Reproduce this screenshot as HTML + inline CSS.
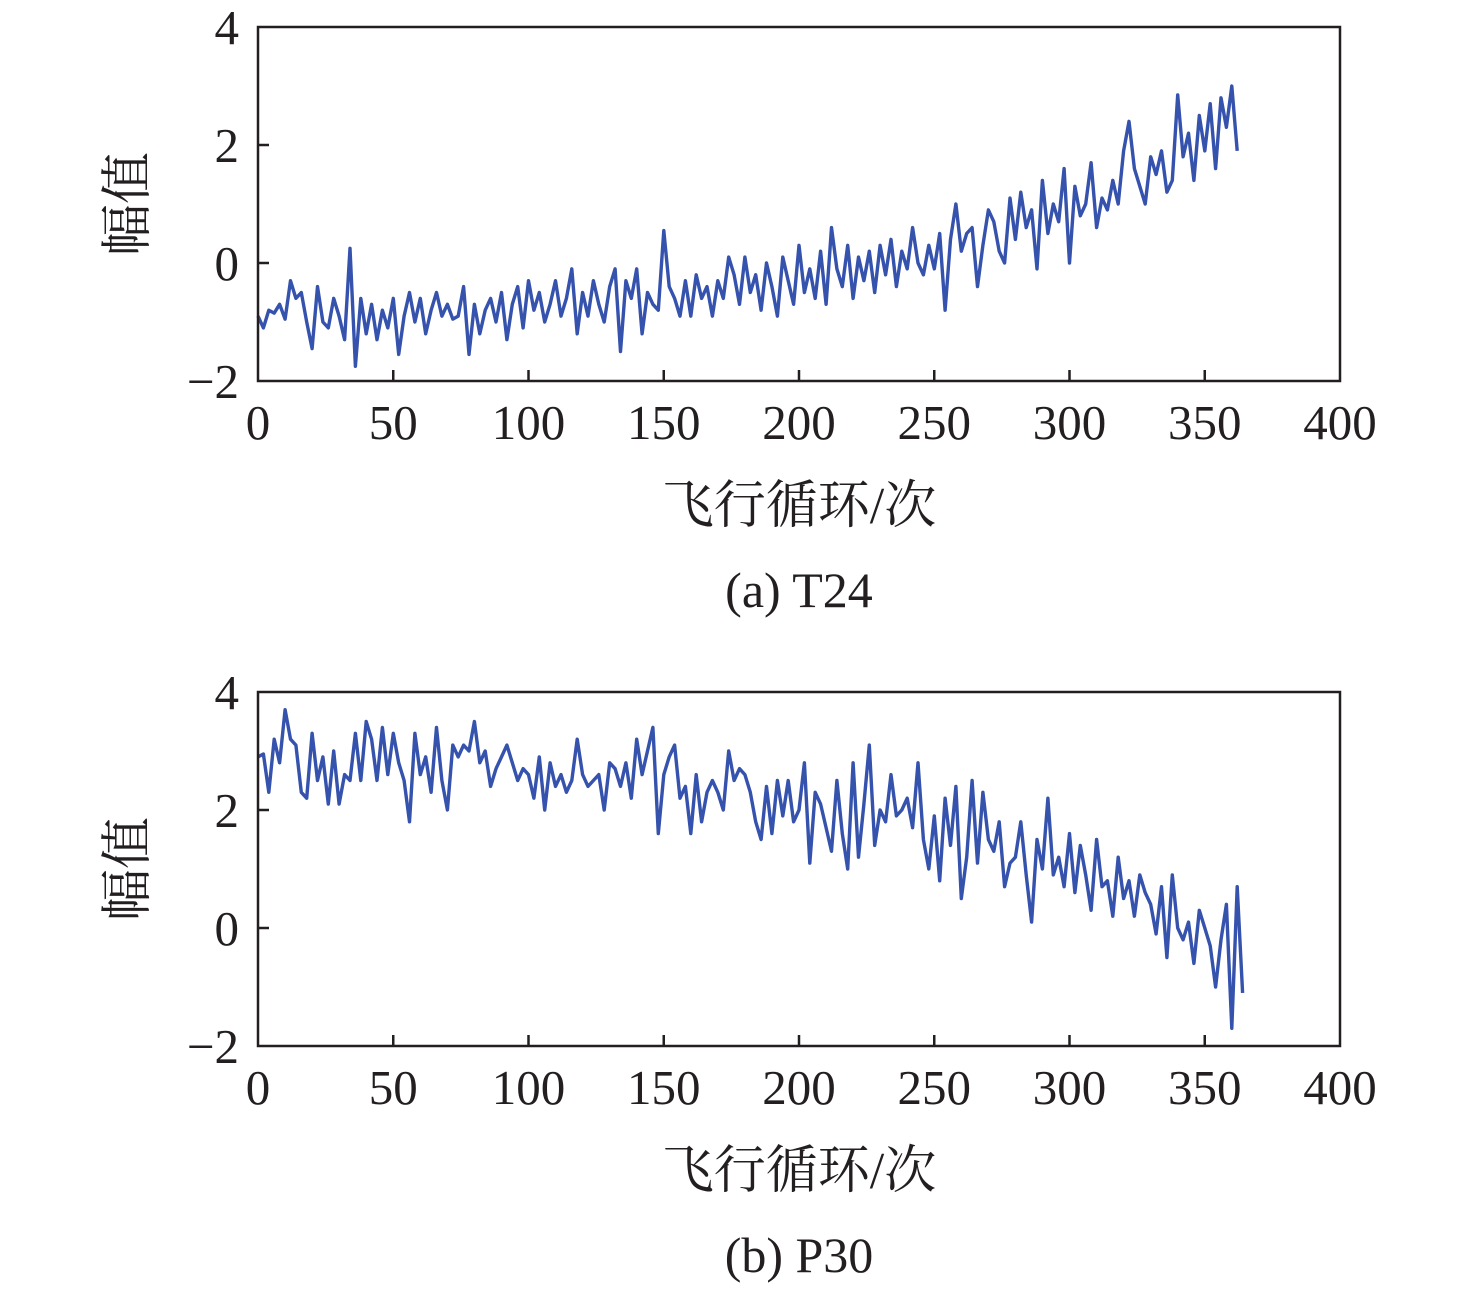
<!DOCTYPE html>
<html><head><meta charset="utf-8">
<style>
html,body{margin:0;padding:0;background:#fff;}
svg{display:block;}
text{font-family:"Liberation Serif","Noto Serif CJK SC",serif;fill:#231f20;}
</style></head>
<body>
<svg id="chart" width="1476" height="1291" xmlns="http://www.w3.org/2000/svg"></svg>
<script>
const xTicks = [0,50,100,150,200,250,300,350,400];
const yTicks = [-2,0,2,4];
const t24Values = [-0.9,-1.1,-0.8,-0.85,-0.7,-0.95,-0.3,-0.6,-0.5,-1.0,
-1.45,-0.4,-1.0,-1.1,-0.6,-0.9,-1.3,0.25,-1.75,-0.6,
-1.2,-0.7,-1.3,-0.8,-1.1,-0.6,-1.55,-0.9,-0.5,-1.0,
-0.6,-1.2,-0.8,-0.5,-0.9,-0.7,-0.95,-0.9,-0.4,-1.55,
-0.7,-1.2,-0.8,-0.6,-1.0,-0.5,-1.3,-0.7,-0.4,-1.1,
-0.3,-0.8,-0.5,-1.0,-0.7,-0.3,-0.9,-0.6,-0.1,-1.2,
-0.5,-0.9,-0.3,-0.7,-1.0,-0.4,-0.1,-1.5,-0.3,-0.6,
-0.1,-1.2,-0.5,-0.7,-0.8,0.55,-0.4,-0.6,-0.9,-0.3,
-0.9,-0.2,-0.6,-0.4,-0.9,-0.3,-0.6,0.1,-0.2,-0.7,
0.1,-0.5,-0.2,-0.8,0.0,-0.4,-0.9,0.1,-0.3,-0.7,
0.3,-0.5,-0.1,-0.6,0.2,-0.7,0.6,-0.1,-0.4,0.3,
-0.6,0.1,-0.3,0.2,-0.5,0.3,-0.2,0.4,-0.4,0.2,
-0.1,0.6,0.0,-0.2,0.3,-0.1,0.5,-0.8,0.4,1.0,
0.2,0.5,0.6,-0.4,0.3,0.9,0.7,0.2,0.0,1.1,
0.4,1.2,0.6,0.9,-0.1,1.4,0.5,1.0,0.7,1.6,
0.0,1.3,0.8,1.0,1.7,0.6,1.1,0.9,1.4,1.0,
1.9,2.4,1.6,1.3,1.0,1.8,1.5,1.9,1.2,1.4,
2.85,1.8,2.2,1.4,2.5,1.9,2.7,1.6,2.8,2.3,
3.0,1.9];
const p30Values = [2.9,2.95,2.3,3.2,2.8,3.7,3.2,3.1,2.3,2.2,
3.3,2.5,2.9,2.1,3.0,2.1,2.6,2.5,3.3,2.5,
3.5,3.2,2.5,3.4,2.6,3.3,2.8,2.5,1.8,3.3,
2.6,2.9,2.3,3.4,2.5,2.0,3.1,2.9,3.1,3.0,
3.5,2.8,3.0,2.4,2.7,2.9,3.1,2.8,2.5,2.7,
2.6,2.2,2.9,2.0,2.8,2.4,2.6,2.3,2.5,3.2,
2.6,2.4,2.5,2.6,2.0,2.8,2.7,2.4,2.8,2.2,
3.2,2.6,3.0,3.4,1.6,2.6,2.9,3.1,2.2,2.4,
1.6,2.6,1.8,2.3,2.5,2.3,2.0,3.0,2.5,2.7,
2.6,2.3,1.8,1.5,2.4,1.6,2.5,1.9,2.5,1.8,
2.0,2.8,1.1,2.3,2.1,1.7,1.3,2.5,1.6,1.0,
2.8,1.2,2.1,3.1,1.4,2.0,1.8,2.6,1.9,2.0,
2.2,1.7,2.8,1.5,1.0,1.9,0.8,2.2,1.4,2.4,
0.5,1.2,2.5,1.1,2.3,1.5,1.3,1.8,0.7,1.1,
1.2,1.8,0.9,0.1,1.5,1.0,2.2,0.9,1.2,0.7,
1.6,0.6,1.4,0.9,0.3,1.5,0.7,0.8,0.2,1.2,
0.5,0.8,0.2,0.9,0.6,0.4,-0.1,0.7,-0.5,0.9,
0.0,-0.2,0.1,-0.6,0.3,0.0,-0.3,-1.0,-0.2,0.4,
-1.7,0.7,-1.1];
const cycleStep = 2;

const NS = "http://www.w3.org/2000/svg";
const svg = document.getElementById('chart');
function mk(tag, attrs, parent, txt){
  const e = document.createElementNS(NS, tag);
  for (const k in attrs) e.setAttribute(k, attrs[k]);
  if (txt !== undefined) e.textContent = txt;
  parent.appendChild(e);
  return e;
}
function panel(top, values, caption, id){
  const L = 258, R = 1340, T = top, B = top + 354;
  const xs = v => L + (v - 0) / 400 * (R - L);
  const ys = v => B - (v + 2) / 6 * (B - T);
  const g = mk('g', {}, svg);
  
  
  let d = '';
  values.forEach((v, i) => { d += (i ? 'L' : 'M') + xs(i * cycleStep).toFixed(1) + ' ' + ys(v).toFixed(1); });
  const line = mk('path', {d: d, fill: 'none', stroke: '#3552ad', 'stroke-width': 3.4, 'stroke-linejoin': 'round'}, g);
  
  
  const frame = mk('rect', {x: L, y: T, width: R - L, height: B - T, fill: 'none', stroke: '#231f20', 'stroke-width': 2.5}, g);
  
  
  xTicks.forEach(t => {
    const x = xs(t);
    if (t > 0 && t < 400) mk('line', {x1: x, x2: x, y1: B, y2: B - 11, stroke: '#231f20', 'stroke-width': 2.5}, g);
    const lb = mk('text', {x: x, y: B + 58, 'font-size': 49, 'text-anchor': 'middle'}, g, String(t));
    
    
  });
  yTicks.forEach(t => {
    const y = ys(t);
    if (t > -2 && t < 4) mk('line', {x1: L, x2: L + 11, y1: y, y2: y, stroke: '#231f20', 'stroke-width': 2.5}, g);
    const lb = mk('text', {x: 239, y: y + 17, 'font-size': 49, 'text-anchor': 'end'}, g, t < 0 ? '\u2212' + Math.abs(t) : String(t));
    
    
  });
  const yl = mk('text', {x: 0, y: 0, 'font-size': 52, 'text-anchor': 'middle', transform: 'translate(145,' + (T + 177) + ') rotate(-90)'}, g, '幅值');
  
  
  const xl = mk('text', {x: 799, y: B + 142, 'font-size': 52, 'text-anchor': 'middle'}, g, '飞行循环/次');
  
  
  const cap = mk('text', {x: 799, y: B + 226, 'font-size': 50, 'text-anchor': 'middle'}, g, caption);
  
  
}
panel(27, t24Values, '(a) T24', 't24');
panel(692, p30Values, '(b) P30', 'p30');
</script>
</body></html>
